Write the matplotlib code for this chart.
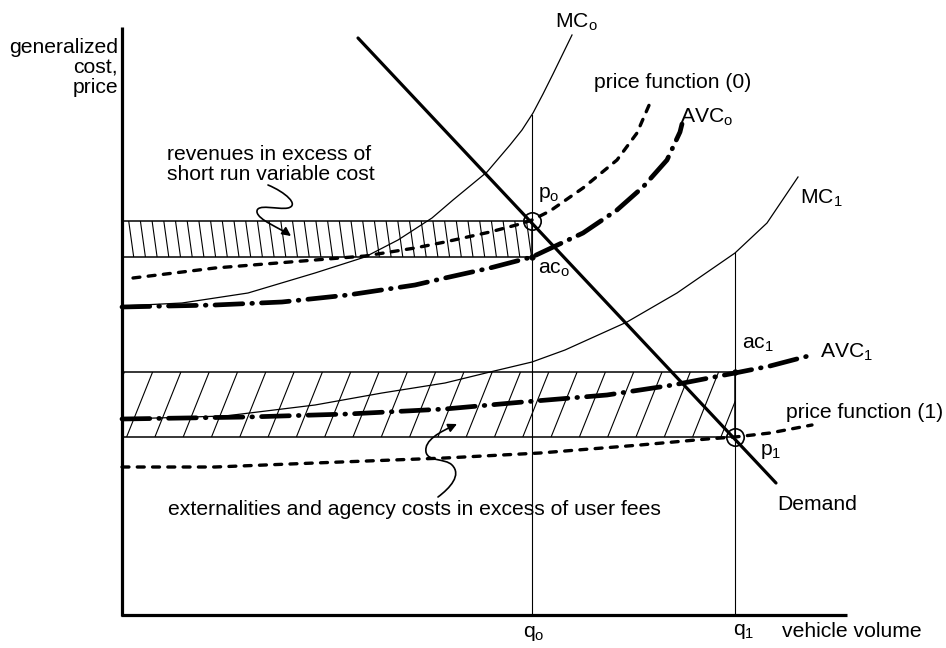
import numpy as np
import matplotlib
matplotlib.use("Agg")
import matplotlib.pyplot as plt
from matplotlib.patches import Rectangle, FancyArrowPatch
from matplotlib.path import Path
from matplotlib.collections import LineCollection

# curve points in pixel space (x right, y down)
mc0_x = [122, 182, 248, 315, 365, 398, 432, 453, 487, 510, 522, 533, 543, 553, 572]
mc0_y = [306, 303, 293, 273, 257, 240, 218, 200, 172, 145, 130, 113, 94, 74, 35]

price0_x = [133, 215, 315, 365, 415, 445, 490, 520, 532, 550, 583, 617, 637, 650]
price0_y = [278, 268, 260, 256, 248, 242, 232, 224, 220, 211, 188, 160, 133, 103]

avc0_x = [122, 215, 282, 348, 415, 445, 490, 532, 583, 617, 643, 667, 680, 682]
avc0_y = [307, 305, 302, 295, 285, 278, 268, 257, 233, 210, 187, 160, 132, 124]

mc1_x = [122, 225, 315, 382, 445, 490, 532, 565, 627, 677, 735, 767, 798]
mc1_y = [419, 416, 405, 393, 383, 372, 362, 350, 322, 293, 253, 223, 177]

avc1_x = [122, 248, 348, 445, 523, 607, 673, 735, 770, 812]
avc1_y = [419, 417, 414, 409, 402, 395, 385, 373, 366, 355]

price1_x = [122, 215, 315, 445, 540, 640, 707, 735, 770, 812]
price1_y = [467, 467, 463, 458, 453, 445, 439, 437, 433, 425]

demand_x = [358, 776]
demand_y = [38, 483]

q0, q1 = 532, 735
p0, ac0 = 221, 257
p1, ac1 = 437, 372

plt.rcParams["font.family"] = ["Liberation Sans", "DejaVu Sans"]
plt.rcParams["mathtext.fontset"] = "custom"
plt.rcParams["mathtext.rm"] = "Liberation Sans"
plt.rcParams["lines.scale_dashes"] = False

fig = plt.figure(figsize=(9.46, 6.48), dpi=100)
ax = fig.add_axes([0, 0, 1, 1])
ax.set_xlim(0, 946)
ax.set_ylim(648, 0)
ax.axis("off")

x_left, x_right, y_top, y_bot = 122, 847, 27, 615
fs = 15.2


def hatch_rect(x0, x1, y0, y1, step, lean, lw=0.8):
    rect = Rectangle((x0, y0), x1 - x0, y1 - y0, fill=False, ec="black", lw=1.1, zorder=3)
    ax.add_patch(rect)
    starts = np.arange(x0 - abs(lean) - step, x1 + abs(lean) + step, step)
    segs = [[(s, y0), (s + lean, y1)] for s in starts]
    lc = LineCollection(segs, colors="black", linewidths=lw, zorder=2)
    ax.add_collection(lc)
    lc.set_clip_path(rect)


# shaded rectangles
hatch_rect(x_left, q0, p0, ac0, 11.7, 5)
hatch_rect(x_left, q1, ac1, p1, 28.3, -26)

# axes
ax.plot([x_left, x_left], [y_top, y_bot + 1], color="black", lw=2.3, solid_capstyle="butt")
ax.plot([x_left - 1, x_right], [y_bot, y_bot], color="black", lw=2.3, solid_capstyle="butt")

# verticals at q0, q1 (from MC curves down to axis)
ax.plot([q0, q0], [115, y_bot], color="black", lw=0.8)
ax.plot([q1, q1], [253, y_bot], color="black", lw=0.8)

# curves
ax.plot(mc0_x, mc0_y, color="black", lw=0.9)
ax.plot(mc1_x, mc1_y, color="black", lw=0.9)
ax.plot(price0_x, price0_y, color="black", lw=2.4, dashes=(5, 6), dash_capstyle="round")
ax.plot(price1_x, price1_y, color="black", lw=2.4, dashes=(5, 6), dash_capstyle="round")
ax.plot(avc0_x, avc0_y, color="black", lw=3.4, dashes=(20, 6.5, 0.5, 6.5), dash_capstyle="round")
ax.plot(avc1_x, avc1_y, color="black", lw=3.4, dashes=(20, 6.5, 0.5, 6.5), dash_capstyle="round")
ax.plot(demand_x, demand_y, color="black", lw=2.3, solid_capstyle="round")

# points
ax.plot([q0, q1], [p0, p1], "o", ms=12.5, mfc="none", mec="black", mew=1.2, zorder=5)
ax.plot([q0, q1], [ac0, ac1], "o", ms=3.5, color="black", zorder=5)

# squiggly pointers
top_path = Path(
    [(268, 185), (285, 192), (300, 205), (288, 208),
     (278, 210), (256, 203), (257, 212),
     (258, 220), (280, 228), (291, 236)],
    [Path.MOVETO] + [Path.CURVE4] * 9,
)
ax.add_patch(FancyArrowPatch(path=top_path, arrowstyle="-|>", mutation_scale=13,
                             color="black", lw=1.2, zorder=6))
bot_path = Path(
    [(438, 497), (450, 488), (462, 475), (452, 465),
     (445, 458), (428, 462), (426, 452),
     (424, 440), (440, 432), (457, 424)],
    [Path.MOVETO] + [Path.CURVE4] * 9,
)
ax.add_patch(FancyArrowPatch(path=bot_path, arrowstyle="-|>", mutation_scale=13,
                             color="black", lw=1.2, zorder=6))

# text
kw = dict(fontsize=fs, va="baseline", color="black")
ax.text(118, 53, "generalized", ha="right", **kw)
ax.text(118, 73, "cost,", ha="right", **kw)
ax.text(118, 93, "price", ha="right", **kw)
ax.text(167, 160, "revenues in excess of", ha="left", **kw)
ax.text(167, 180, "short run variable cost", ha="left", **kw)
ax.text(168, 515, "externalities and agency costs in excess of user fees", ha="left", **kw)

ax.text(555, 27, r"MC$_\mathrm{o}$", ha="left", **kw)
ax.text(594, 88, "price function (0)", ha="left", **kw)
ax.text(680, 122, r"AVC$_\mathrm{o}$", ha="left", **kw)
ax.text(538, 198, r"p$_\mathrm{o}$", ha="left", **kw)
ax.text(538, 273, r"ac$_\mathrm{o}$", ha="left", **kw)
ax.text(800, 203, r"MC$_\mathrm{1}$", ha="left", **kw)
ax.text(742, 348, r"ac$_\mathrm{1}$", ha="left", **kw)
ax.text(820, 357, r"AVC$_\mathrm{1}$", ha="left", **kw)
ax.text(786, 418, "price function (1)", ha="left", **kw)
ax.text(760, 455, r"p$_\mathrm{1}$", ha="left", **kw)
ax.text(777, 510, "Demand", ha="left", **kw)
ax.text(523, 637, r"q$_\mathrm{o}$", ha="left", **kw)
ax.text(733, 635, r"q$_\mathrm{1}$", ha="left", **kw)
ax.text(782, 637, "vehicle volume", ha="left", **kw)

fig.savefig("out.png", dpi=100)
